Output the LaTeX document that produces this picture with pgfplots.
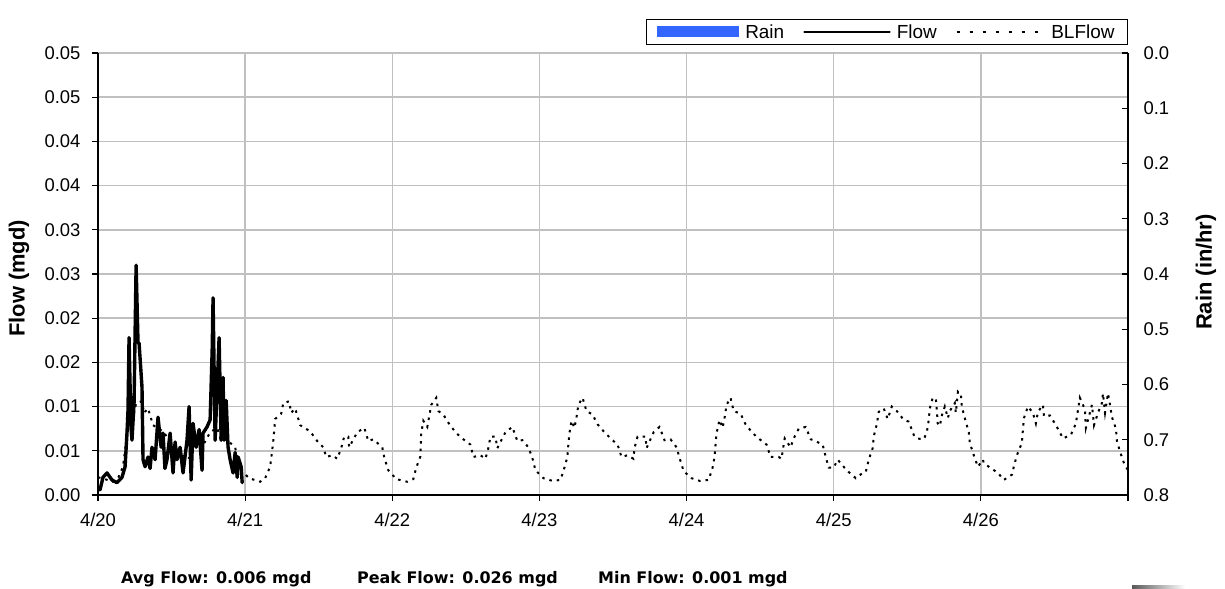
\documentclass[border=0pt]{standalone}
\usepackage{fontspec}
\setmainfont{Liberation Sans}
\newfontfamily\bottomfont{DejaVu Sans}
\usepackage{pgfplots}
\usepackage{pgfplotstable}
\pgfplotsset{compat=1.18}
\definecolor{rainblue}{RGB}{51,102,255}
\definecolor{gridgray}{RGB}{192,192,192}

\pgfplotstableread{
x y
0.000 0.0007
0.014 0.0006
0.034 0.0020
0.061 0.0025
0.095 0.0017
0.129 0.0014
0.163 0.0020
0.184 0.0032
0.197 0.0070
0.204 0.0096
0.211 0.0178
0.224 0.0077
0.231 0.0062
0.245 0.0104
0.259 0.0260
0.272 0.0172
0.279 0.0172
0.299 0.0122
0.306 0.0040
0.320 0.0032
0.340 0.0043
0.354 0.0030
0.367 0.0054
0.388 0.0040
0.408 0.0088
0.429 0.0054
0.442 0.0070
0.455 0.0030
0.469 0.0040
0.490 0.0070
0.510 0.0025
0.524 0.0060
0.537 0.0040
0.558 0.0054
0.578 0.0025
0.605 0.0062
0.619 0.0100
0.633 0.0017
0.646 0.0081
0.667 0.0054
0.687 0.0074
0.707 0.0028
0.714 0.0070
0.741 0.0077
0.762 0.0085
0.776 0.0164
0.782 0.0223
0.796 0.0062
0.810 0.0122
0.823 0.0178
0.837 0.0062
0.850 0.0133
0.857 0.0062
0.871 0.0107
0.884 0.0054
0.898 0.0040
0.918 0.0025
0.932 0.0048
0.946 0.0020
0.952 0.0043
0.973 0.0032
0.980 0.0014
}\flowtable

\pgfplotstableread{
x y
0.000 0.0020
0.027 0.0019
0.102 0.0015
0.136 0.0019
0.170 0.0032
0.190 0.0059
0.197 0.0072
0.204 0.0086
0.245 0.0092
0.259 0.0104
0.299 0.0106
0.313 0.0093
0.340 0.0098
0.374 0.0079
0.442 0.0072
0.490 0.0061
0.531 0.0054
0.551 0.0043
0.592 0.0045
0.626 0.0041
0.653 0.0053
0.673 0.0066
0.701 0.0066
0.707 0.0054
0.762 0.0071
0.810 0.0076
0.837 0.0061
0.871 0.0063
0.932 0.0054
0.946 0.0042
0.973 0.0028
1.027 0.0019
1.102 0.0015
1.136 0.0019
1.170 0.0032
1.190 0.0059
1.197 0.0072
1.204 0.0086
1.245 0.0092
1.259 0.0104
1.299 0.0106
1.313 0.0093
1.340 0.0098
1.374 0.0079
1.442 0.0072
1.490 0.0061
1.531 0.0054
1.551 0.0043
1.592 0.0045
1.626 0.0041
1.653 0.0053
1.673 0.0066
1.701 0.0066
1.707 0.0054
1.762 0.0071
1.810 0.0076
1.837 0.0061
1.871 0.0063
1.932 0.0054
1.946 0.0042
1.973 0.0028
2.027 0.0018
2.102 0.0015
2.143 0.0018
2.163 0.0031
2.190 0.0043
2.197 0.0070
2.211 0.0084
2.238 0.0077
2.265 0.0102
2.299 0.0110
2.313 0.0095
2.347 0.0091
2.388 0.0080
2.435 0.0070
2.483 0.0063
2.531 0.0057
2.551 0.0043
2.599 0.0045
2.633 0.0041
2.653 0.0053
2.667 0.0066
2.701 0.0066
2.714 0.0053
2.769 0.0071
2.816 0.0077
2.850 0.0061
2.884 0.0062
2.925 0.0054
2.952 0.0042
2.973 0.0028
3.027 0.0019
3.088 0.0016
3.143 0.0017
3.170 0.0031
3.190 0.0043
3.197 0.0058
3.204 0.0070
3.218 0.0084
3.238 0.0076
3.252 0.0088
3.265 0.0102
3.293 0.0110
3.320 0.0095
3.361 0.0091
3.395 0.0080
3.442 0.0071
3.497 0.0062
3.531 0.0057
3.558 0.0043
3.599 0.0045
3.639 0.0041
3.646 0.0053
3.667 0.0066
3.721 0.0066
3.728 0.0053
3.776 0.0071
3.816 0.0077
3.850 0.0062
3.891 0.0063
3.932 0.0054
3.952 0.0042
3.980 0.0027
4.034 0.0019
4.088 0.0016
4.150 0.0017
4.177 0.0031
4.190 0.0043
4.197 0.0057
4.204 0.0070
4.224 0.0085
4.245 0.0076
4.259 0.0088
4.272 0.0102
4.299 0.0110
4.320 0.0095
4.367 0.0092
4.401 0.0080
4.449 0.0070
4.497 0.0063
4.544 0.0057
4.571 0.0043
4.626 0.0043
4.646 0.0041
4.653 0.0050
4.667 0.0064
4.707 0.0054
4.728 0.0064
4.762 0.0075
4.810 0.0077
4.844 0.0063
4.864 0.0062
4.925 0.0057
4.946 0.0043
4.966 0.0031
5.000 0.0031
5.027 0.0040
5.088 0.0028
5.150 0.0019
5.197 0.0025
5.218 0.0026
5.238 0.0040
5.265 0.0053
5.272 0.0066
5.293 0.0080
5.306 0.0094
5.340 0.0098
5.367 0.0086
5.395 0.0100
5.429 0.0095
5.476 0.0085
5.510 0.0083
5.544 0.0068
5.565 0.0064
5.612 0.0063
5.633 0.0071
5.646 0.0085
5.653 0.0098
5.673 0.0110
5.694 0.0109
5.701 0.0096
5.707 0.0081
5.721 0.0078
5.735 0.0090
5.755 0.0100
5.776 0.0087
5.789 0.0095
5.823 0.0104
5.830 0.0093
5.844 0.0117
5.864 0.0114
5.871 0.0100
5.891 0.0087
5.918 0.0071
5.925 0.0059
5.952 0.0045
5.980 0.0032
6.014 0.0040
6.020 0.0036
6.054 0.0032
6.116 0.0025
6.156 0.0017
6.211 0.0023
6.224 0.0032
6.245 0.0045
6.279 0.0059
6.286 0.0074
6.293 0.0087
6.320 0.0100
6.354 0.0093
6.374 0.0081
6.388 0.0094
6.422 0.0102
6.429 0.0089
6.469 0.0090
6.503 0.0081
6.537 0.0071
6.558 0.0064
6.612 0.0068
6.646 0.0081
6.660 0.0096
6.673 0.0110
6.707 0.0097
6.714 0.0076
6.755 0.0102
6.769 0.0079
6.796 0.0093
6.823 0.0104
6.830 0.0115
6.844 0.0093
6.864 0.0115
6.878 0.0102
6.891 0.0088
6.918 0.0075
6.925 0.0061
6.946 0.0049
6.973 0.0036
7.000 0.0028
}\bltable

\begin{document}
\begin{tikzpicture}[x=1bp,y=1bp]
\path[use as bounding box] (0,0) rectangle (1225,-589);
\begin{axis}[
  at={(98bp,-495bp)}, anchor=south west,
  scale only axis, width=1030bp, height=442bp,
  xmin=0, xmax=7, ymin=0, ymax=0.05,
  scaled y ticks=false, scaled x ticks=false,
  xtick={0,1,2,3,4,5,6,7},
  xticklabels={4/20,4/21,4/22,4/23,4/24,4/25,4/26,},
  ytick={0,0.005,0.01,0.015,0.02,0.025,0.03,0.035,0.04,0.045,0.05},
  yticklabels={0.00,0.01,0.01,0.02,0.02,0.03,0.03,0.04,0.04,0.05,0.05},
  axis x line*=bottom, axis y line*=left,
  axis line style={-, black, line width=1.5bp},
  tick align=outside, major tick length=6bp,
  tick style={black, line width=1.2bp},
  grid=major, major grid style={gridgray, line width=1.5bp},
  /pgf/number format/assume math mode=true,
  tick label style={font=\fontsize{18.5}{21}\selectfont},
  yticklabel style={xshift=-8bp},
  xticklabel style={yshift=-9bp},
  ylabel={Flow (mgd)},
  ylabel style={at={(axis description cs:-0.0767,0.49)}, anchor=center, font=\bfseries\fontsize{22}{25}\selectfont},
  legend columns=3,
  legend style={at={(axis description cs:1,1)}, anchor=south east, yshift=8bp,
    draw=black, line width=1bp, font=\fontsize{19}{22}\selectfont,
    /tikz/every even column/.append style={column sep=17bp},
    /tikz/every odd column/.append style={column sep=4bp},
    inner xsep=11bp, inner ysep=3bp},
  clip=true,
]
\addlegendimage{legend image code/.code={\fill[rainblue] (0bp,-5bp) rectangle (81bp,5bp);}}
\addlegendentry{Rain}
\addplot[black, line width=3.4bp, line join=round, line cap=round,
  legend image code/.code={\draw[black, line width=2.6bp] (0bp,0bp) -- (85bp,0bp);}]
  table {\flowtable};
\addlegendentry{Flow}
\addplot[black, line width=2bp, dash pattern=on 2.5bp off 5bp,
  legend image code/.code={\draw[black, line width=1.6bp, dash pattern=on 3bp off 10bp] (0bp,0bp) -- (88bp,0bp);}]
  table {\bltable};
\addlegendentry{BLFlow}
\end{axis}
\begin{axis}[
  at={(98bp,-495bp)}, anchor=south west,
  scale only axis, width=1030bp, height=442bp,
  xmin=0, xmax=7, ymin=0, ymax=0.8, y dir=reverse,
  scaled y ticks=false,
  axis x line=none, axis y line*=right,
  axis line style={-, black, line width=1.5bp},
  ytick={0,0.1,0.2,0.3,0.4,0.5,0.6,0.7,0.8},
  yticklabels={0.0,0.1,0.2,0.3,0.4,0.5,0.6,0.7,0.8},
  tick align=inside, major tick length=6bp,
  tick style={black, line width=1.2bp},
  /pgf/number format/assume math mode=true,
  tick label style={font=\fontsize{18.5}{21}\selectfont},
  yticklabel style={xshift=12bp},
  ylabel={Rain (in/hr)},
  ylabel style={at={(axis description cs:1.0757,0.5045)}, anchor=center, font=\bfseries\fontsize{22}{25}\selectfont},
]
\end{axis}
\node[anchor=base west, font=\bottomfont\bfseries\fontsize{16}{19}\selectfont, inner sep=0pt] at (121,-583) {Avg Flow: 0.006 mgd};
\node[anchor=base west, font=\bottomfont\bfseries\fontsize{16}{19}\selectfont, inner sep=0pt] at (357,-583) {Peak Flow: 0.026 mgd};
\node[anchor=base west, font=\bottomfont\bfseries\fontsize{16}{19}\selectfont, inner sep=0pt] at (598,-583) {Min Flow: 0.001 mgd};
\shade[left color=gray!70!black, right color=white] (1132,-585) rectangle (1185,-588);
\end{tikzpicture}
\end{document}
